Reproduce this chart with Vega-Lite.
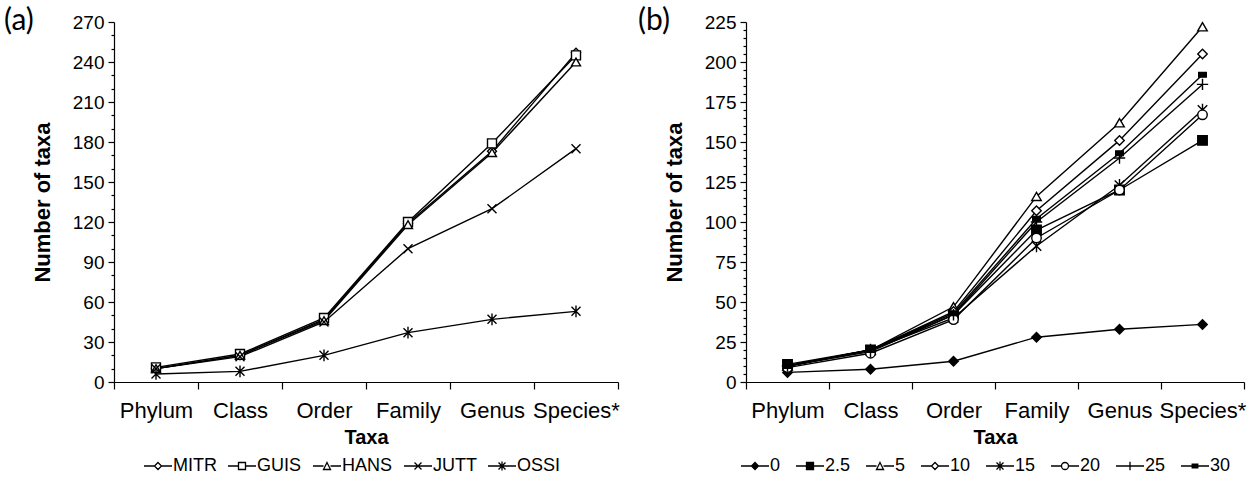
{
  "$schema": "https://vega.github.io/schema/vega-lite/v6.json",
  "padding": {"left": 4, "top": 6, "right": 4, "bottom": 2},
  "background": "white",
  "spacing": 18,
  "datasets": {
    "a": [
      {"series": "MITR", "taxa": "Phylum", "n": 10}, {"series": "MITR", "taxa": "Class", "n": 20}, {"series": "MITR", "taxa": "Order", "n": 47}, {"series": "MITR", "taxa": "Family", "n": 119}, {"series": "MITR", "taxa": "Genus", "n": 173}, {"series": "MITR", "taxa": "Species*", "n": 247},
      {"series": "GUIS", "taxa": "Phylum", "n": 11}, {"series": "GUIS", "taxa": "Class", "n": 21}, {"series": "GUIS", "taxa": "Order", "n": 48}, {"series": "GUIS", "taxa": "Family", "n": 120}, {"series": "GUIS", "taxa": "Genus", "n": 179}, {"series": "GUIS", "taxa": "Species*", "n": 245},
      {"series": "HANS", "taxa": "Phylum", "n": 10}, {"series": "HANS", "taxa": "Class", "n": 20}, {"series": "HANS", "taxa": "Order", "n": 46}, {"series": "HANS", "taxa": "Family", "n": 118}, {"series": "HANS", "taxa": "Genus", "n": 172}, {"series": "HANS", "taxa": "Species*", "n": 240},
      {"series": "JUTT", "taxa": "Phylum", "n": 10}, {"series": "JUTT", "taxa": "Class", "n": 19}, {"series": "JUTT", "taxa": "Order", "n": 45}, {"series": "JUTT", "taxa": "Family", "n": 100}, {"series": "JUTT", "taxa": "Genus", "n": 130}, {"series": "JUTT", "taxa": "Species*", "n": 175},
      {"series": "OSSI", "taxa": "Phylum", "n": 6}, {"series": "OSSI", "taxa": "Class", "n": 8}, {"series": "OSSI", "taxa": "Order", "n": 20}, {"series": "OSSI", "taxa": "Family", "n": 37}, {"series": "OSSI", "taxa": "Genus", "n": 47}, {"series": "OSSI", "taxa": "Species*", "n": 53}
    ],
    "b": [
      {"series": "0", "taxa": "Phylum", "n": 6}, {"series": "0", "taxa": "Class", "n": 8}, {"series": "0", "taxa": "Order", "n": 13}, {"series": "0", "taxa": "Family", "n": 28}, {"series": "0", "taxa": "Genus", "n": 33}, {"series": "0", "taxa": "Species*", "n": 36},
      {"series": "2.5", "taxa": "Phylum", "n": 11}, {"series": "2.5", "taxa": "Class", "n": 20}, {"series": "2.5", "taxa": "Order", "n": 42}, {"series": "2.5", "taxa": "Family", "n": 95}, {"series": "2.5", "taxa": "Genus", "n": 120}, {"series": "2.5", "taxa": "Species*", "n": 151},
      {"series": "5", "taxa": "Phylum", "n": 10}, {"series": "5", "taxa": "Class", "n": 20}, {"series": "5", "taxa": "Order", "n": 47}, {"series": "5", "taxa": "Family", "n": 116}, {"series": "5", "taxa": "Genus", "n": 162}, {"series": "5", "taxa": "Species*", "n": 222},
      {"series": "10", "taxa": "Phylum", "n": 10}, {"series": "10", "taxa": "Class", "n": 20}, {"series": "10", "taxa": "Order", "n": 44}, {"series": "10", "taxa": "Family", "n": 107}, {"series": "10", "taxa": "Genus", "n": 151}, {"series": "10", "taxa": "Species*", "n": 205},
      {"series": "15", "taxa": "Phylum", "n": 10}, {"series": "15", "taxa": "Class", "n": 20}, {"series": "15", "taxa": "Order", "n": 40}, {"series": "15", "taxa": "Family", "n": 85}, {"series": "15", "taxa": "Genus", "n": 123}, {"series": "15", "taxa": "Species*", "n": 170},
      {"series": "20", "taxa": "Phylum", "n": 9}, {"series": "20", "taxa": "Class", "n": 18}, {"series": "20", "taxa": "Order", "n": 39}, {"series": "20", "taxa": "Family", "n": 90}, {"series": "20", "taxa": "Genus", "n": 120}, {"series": "20", "taxa": "Species*", "n": 167},
      {"series": "25", "taxa": "Phylum", "n": 10}, {"series": "25", "taxa": "Class", "n": 19}, {"series": "25", "taxa": "Order", "n": 42}, {"series": "25", "taxa": "Family", "n": 100}, {"series": "25", "taxa": "Genus", "n": 140}, {"series": "25", "taxa": "Species*", "n": 186},
      {"series": "30", "taxa": "Phylum", "n": 10}, {"series": "30", "taxa": "Class", "n": 20}, {"series": "30", "taxa": "Order", "n": 43}, {"series": "30", "taxa": "Family", "n": 102}, {"series": "30", "taxa": "Genus", "n": 143}, {"series": "30", "taxa": "Species*", "n": 192}
    ]
  },
  "hconcat": [
    {
      "width": 504,
      "height": 360,
      "title": {"text": "(a)", "anchor": "start", "frame": "group", "dx": -110, "dy": 39, "offset": -8, "baseline": "alphabetic", "font": "Lato", "fontSize": 30, "fontWeight": "normal", "color": "black"},
      "data": {"name": "a"},
      "encoding": {
        "x": {"field": "taxa", "type": "nominal", "sort": ["Phylum", "Class", "Order", "Family", "Genus", "Species*"],
          "scale": {"type": "band", "paddingInner": 0, "paddingOuter": 0},
          "axis": {"title": "Taxa", "labelAngle": 0, "tickBand": "extent", "tickSize": 7, "labelPadding": 11, "titlePadding": 6, "labelFontSize": 22, "titleFontSize": 20}},
        "y": {"field": "n", "type": "quantitative", "scale": {"domain": [0, 270], "nice": false},
          "axis": {"title": "Number of taxa", "values": [0,10,20,30,40,50,60,70,80,90,100,110,120,130,140,150,160,170,180,190,200,210,220,230,240,250,260,270],
            "labelExpr": "datum.value % 30 === 0 ? datum.label : ''", "labelOverlap": false,
            "tickSize": {"condition": {"test": "datum.value % 30 === 0", "value": 6}, "value": 3},
            "labelPadding": 4, "titlePadding": 18}}
      },
      "layer": [
        {"mark": {"type": "line", "color": "black", "strokeWidth": 1.4}, "encoding": {"detail": {"field": "series"}}},
        {"mark": {"type": "point", "stroke": "black", "strokeWidth": 1.4, "size": 81, "opacity": 1},
          "encoding": {
            "shape": {"field": "series", "scale": {"domain": ["MITR", "GUIS", "HANS", "JUTT", "OSSI"], "range": ["diamond", "square", "triangle-up", "M-1,-1L1,1M-1,1L1,-1", "M-1,-1L1,1M-1,1L1,-1M0,-1.3L0,1.3"]}, "legend": null},
            "fill": {"field": "series", "scale": {"domain": ["MITR", "GUIS", "HANS", "JUTT", "OSSI"], "range": ["white", "white", "white", "white", "white"]}, "legend": null}
          }},
        {"mark": {"type": "point", "stroke": "black", "strokeWidth": 1.3, "size": 49, "opacity": 0},
          "encoding": {
            "shape": {"field": "series", "scale": {"domain": ["MITR", "GUIS", "HANS", "JUTT", "OSSI"], "range": ["M-4,0L-1,0M1,0L4,0M0,-1L1,0L0,1L-1,0Z", "M-4,0L-1,0M1,0L4,0M-1,-1L1,-1L1,1L-1,1Z", "M-4,0L-1,0M1,0L4,0M0,-1L1,1L-1,1Z", "M-4,0L4,0M-1,-1L1,1M-1,1L1,-1", "M-4,0L4,0M-1,-1L1,1M-1,1L1,-1M0,-1.3L0,1.3"]},
              "legend": {"orient": "bottom", "direction": "horizontal", "title": null, "symbolOpacity": 1, "gridAlign": "each", "columnPadding": 8, "labelOffset": 6, "padding": 35, "offset": -25,
                "encode": {"symbols": {"update": {"stroke": {"value": "black"}, "strokeWidth": {"value": 1.3}, "opacity": {"value": 1}}}}}},
            "fill": {"field": "series", "scale": {"domain": ["MITR", "GUIS", "HANS", "JUTT", "OSSI"], "range": ["white", "white", "white", "white", "white"]},
              "legend": {"orient": "bottom", "direction": "horizontal", "title": null, "symbolOpacity": 1, "gridAlign": "each", "columnPadding": 8, "labelOffset": 6, "padding": 35, "offset": -25,
                "encode": {"symbols": {"update": {"stroke": {"value": "black"}, "strokeWidth": {"value": 1.3}, "opacity": {"value": 1}}}}}}
          }}
      ],
      "resolve": {"scale": {"shape": "independent", "fill": "independent"}}
    },
    {
      "width": 498,
      "height": 360,
      "title": {"text": "(b)", "anchor": "start", "frame": "group", "dx": -108, "dy": 39, "offset": -8, "baseline": "alphabetic", "font": "Lato", "fontSize": 30, "fontWeight": "normal", "color": "black"},
      "data": {"name": "b"},
      "encoding": {
        "x": {"field": "taxa", "type": "nominal", "sort": ["Phylum", "Class", "Order", "Family", "Genus", "Species*"],
          "scale": {"type": "band", "paddingInner": 0, "paddingOuter": 0},
          "axis": {"title": "Taxa", "labelAngle": 0, "tickBand": "extent", "tickSize": 7, "labelPadding": 11, "titlePadding": 6, "labelFontSize": 22, "titleFontSize": 20}},
        "y": {"field": "n", "type": "quantitative", "scale": {"domain": [0, 225], "nice": false},
          "axis": {"title": "Number of taxa", "values": [0,5,10,15,20,25,30,35,40,45,50,55,60,65,70,75,80,85,90,95,100,105,110,115,120,125,130,135,140,145,150,155,160,165,170,175,180,185,190,195,200,205,210,215,220,225],
            "labelExpr": "datum.value % 25 === 0 ? datum.label : ''", "labelOverlap": false,
            "tickSize": {"condition": {"test": "datum.value % 25 === 0", "value": 6}, "value": 3},
            "labelPadding": 4, "titlePadding": 18}}
      },
      "layer": [
        {"mark": {"type": "line", "color": "black", "strokeWidth": 1.4}, "encoding": {"detail": {"field": "series"}}},
        {"mark": {"type": "point", "stroke": "black", "strokeWidth": 1.4, "size": 90, "opacity": 1},
          "encoding": {
            "shape": {"field": "series", "scale": {"domain": ["0", "2.5", "5", "10", "15", "20", "25", "30"], "range": ["diamond", "square", "triangle-up", "diamond", "M-1,-1L1,1M-1,1L1,-1M0,-1.3L0,1.3", "circle", "M-1.2,0L1.2,0M0,-1.2L0,1.2", "M-0.8,-0.5L0.8,-0.5L0.8,0.5L-0.8,0.5Z"]}, "legend": null},
            "fill": {"field": "series", "scale": {"domain": ["0", "2.5", "5", "10", "15", "20", "25", "30"], "range": ["black", "black", "white", "white", "white", "white", "white", "black"]}, "legend": null}
          }},
        {"mark": {"type": "point", "stroke": "black", "strokeWidth": 1.3, "size": 49, "opacity": 0},
          "encoding": {
            "shape": {"field": "series", "scale": {"domain": ["0", "2.5", "5", "10", "15", "20", "25", "30"], "range": ["M-4,0L-1,0M1,0L4,0M0,-1L1,0L0,1L-1,0Z", "M-4,0L-1,0M1,0L4,0M-1,-1L1,-1L1,1L-1,1Z", "M-4,0L-1,0M1,0L4,0M0,-1L1,1L-1,1Z", "M-4,0L-1,0M1,0L4,0M0,-1L1,0L0,1L-1,0Z", "M-4,0L4,0M-1,-1L1,1M-1,1L1,-1M0,-1.3L0,1.3", "M-4,0L-1,0M1,0L4,0M-1,0A1,1,0,1,1,1,0A1,1,0,1,1,-1,0Z", "M-4,0L4,0M0,-1.2L0,1.2", "M-4,0L4,0M-0.8,-0.5L0.8,-0.5L0.8,0.5L-0.8,0.5Z"]},
              "legend": {"orient": "bottom", "direction": "horizontal", "title": null, "symbolOpacity": 1, "gridAlign": "each", "columnPadding": 12, "labelOffset": 6, "offset": 10,
                "encode": {"symbols": {"update": {"stroke": {"value": "black"}, "strokeWidth": {"value": 1.3}, "opacity": {"value": 1}}}}}},
            "fill": {"field": "series", "scale": {"domain": ["0", "2.5", "5", "10", "15", "20", "25", "30"], "range": ["black", "black", "white", "white", "white", "white", "white", "black"]},
              "legend": {"orient": "bottom", "direction": "horizontal", "title": null, "symbolOpacity": 1, "gridAlign": "each", "columnPadding": 12, "labelOffset": 6, "offset": 10,
                "encode": {"symbols": {"update": {"stroke": {"value": "black"}, "strokeWidth": {"value": 1.3}, "opacity": {"value": 1}}}}}}
          }}
      ],
      "resolve": {"scale": {"shape": "independent", "fill": "independent"}}
    }
  ],
  "config": {
    "view": {"stroke": null},
    "font": "Liberation Sans",
    "axis": {"grid": false, "domainColor": "black", "domainWidth": 1.2, "tickColor": "black", "tickWidth": 1.2, "labelColor": "black", "labelFont": "Liberation Sans", "labelFontSize": 19, "titleFont": "Liberation Sans", "titleFontSize": 22, "titleFontWeight": "bold", "titleColor": "black"},
    "legend": {"labelFont": "Liberation Sans", "labelFontSize": 18, "labelColor": "black", "symbolStrokeWidth": 1.3, "symbolStrokeColor": "black", "symbolSize": 49}
  }
}
